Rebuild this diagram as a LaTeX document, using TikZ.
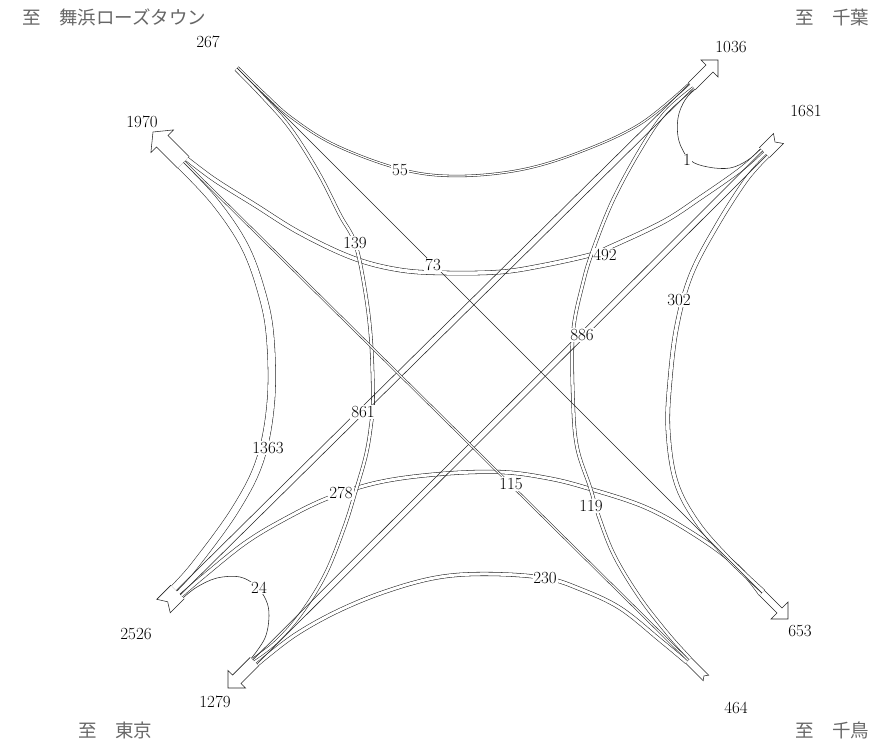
\documentclass[tikz,border=0pt]{standalone}
\usepackage{fontspec}
\newfontfamily\jpfont{Noto Sans CJK JP}
\begin{document}
\begin{tikzpicture}[x=1pt,y=-1pt,
  ln/.style={line width=0.55pt, draw=black!85},
  band/.style={ln, double=white, double distance=#1},
  lbl/.style={fill=white, inner sep=0.8pt, font=\fontsize{17}{17}\selectfont},
  num/.style={inner sep=0pt, font=\fontsize{17}{17}\selectfont},
  dest/.style={inner sep=0pt, anchor=west, text=black!60, font=\jpfont\fontsize{18.5}{19}\selectfont},
  outline/.style={line width=0.55pt, draw=black!85, line join=miter},
  curve/.style={smooth, tension=0.6}]
\useasboundingbox (0,0) rectangle (884,748);

% ---- gate coordinates ----
% entry 2526 (SW)
\coordinate (s1363) at (174.1,588.4);
\coordinate (s861)  at (178.3,592.6);
\coordinate (s278)  at (181.1,595.4);
\coordinate (s24)   at (183.3,597.6);
% entry 1681 (NE)
\coordinate (s1)    at (760.5,148.7);
\coordinate (s492)  at (762.3,150.5);
\coordinate (s886)  at (764.8,153.0);
\coordinate (s302)  at (767.6,155.8);
% entry 464 (SE)
\coordinate (s119)  at (690.1,658.5);
\coordinate (s115)  at (688.3,660.3);
\coordinate (s230)  at (686.5,662.1);
% entry 267 (NW)
\coordinate (s139)  at (235.9,69.1);
\coordinate (s73)   at (237,68);
\coordinate (s55)   at (237.7,67.3);
% exit 1970 (NW)
\coordinate (e492)  at (186.9,158.9);
\coordinate (e115)  at (184.1,161.7);
\coordinate (e1363) at (180.6,165.2);
% exit 1036 (NE)
\coordinate (e55)   at (689.3,83.7);
\coordinate (e861)  at (691.4,85.8);
\coordinate (e119)  at (693.6,88.0);
\coordinate (e1)    at (695.0,89.4);
% exit 653 (SE)
\coordinate (e302)  at (763.2,591.4);
\coordinate (e73)   at (761.8,592.8);
\coordinate (e278)  at (760.4,594.2);
% exit 1279 (SW)
\coordinate (e24)   at (251.3,658.3);
\coordinate (e139)  at (252.7,659.7);
\coordinate (e886)  at (254.9,661.9);
\coordinate (e230)  at (257.3,664.3);

% ---- curved flows ----
\draw[band=7pt] plot[curve] coordinates {(s1363) (195,565) (235,510) (260,460) (271,400) (270,335) (261,290) (244,245) (215,202) (e1363)};
\draw[band=3pt] plot[curve] coordinates {(s278) (205,575) (245,543) (283,520) (328,498) (380,482) (440,474) (500,472) (547,478) (587,488) (647,508) (700,538) (738,567) (e278)};
\draw[ln] plot[curve] coordinates {(s24) (197,587) (217,578) (240,577) (256,586) (266,600) (269,616) (265,638) (e24)};
\draw[ln] plot[curve] coordinates {(s1) (748,160) (730,168) (708,167) (690,160) (679,141) (678,118) (685,100) (e1)};
\draw[band=3.5pt] plot[curve] coordinates {(s492) (740,170) (700,198) (663,222) (610,247) (590,255) (540,266) (500,272) (447,273) (400,270) (353,258) (300,233) (255,205) (215,180) (e492)};
\draw[band=3.5pt] plot[curve] coordinates {(s302) (746,180) (716,227) (691,275) (677,325) (670,380) (668,430) (676,482) (697,522) (728,558) (e302)};
\draw[band=2.5pt] plot[curve] coordinates {(s119) (668,634) (640,598) (615,557) (600,520) (590,487) (577,447) (573,400) (573,333) (583,283) (593,250) (613,200) (640,150) (665,113) (e119)};
\draw[band=3pt] plot[curve] coordinates {(s230) (660,640) (620,608) (580,589) (545,578) (490,574) (440,577) (390,590) (340,610) (295,635) (e230)};
\draw[band=2.5pt] plot[curve] coordinates {(s139) (262,96) (290,128) (318,172) (340,215) (355,243) (365,290) (371,340) (373,400) (371,425) (366,455) (356,490) (344,528) (325,575) (300,615) (275,643) (e139)};
\draw[band=1.2pt] plot[curve] coordinates {(s55) (265,94) (292,118) (335,145) (400,169) (455,176) (520,170) (580,152) (640,124) (e55)};

% ---- straight flows ----
\draw[ln] ([shift={(2.1,2.1)}]s861) -- ([shift={(2.1,2.1)}]e861);
\draw[ln] ([shift={(-2.1,-2.1)}]s861) -- ([shift={(-2.1,-2.1)}]e861);
\draw[ln] ([shift={(2.1,2.1)}]s886) -- ([shift={(2.1,2.1)}]e886);
\draw[ln] ([shift={(-2.1,-2.1)}]s886) -- ([shift={(-2.1,-2.1)}]e886);
\draw[band=1.2pt] (s115) -- (e115);
\draw[ln] (s73) -- (e73);

% ---- exit arrows ----
\draw[outline] (189.1,156.7) -- (167.9,135.5) -- (173.5,129.9) -- (153,132) -- (150.9,152.5) -- (156.5,146.9) -- (177.7,168.1);
\draw[outline] (688.3,82.7) -- (706,65) -- (701,60) -- (718,60) -- (718,77) -- (713,72) -- (695.3,89.7);
\draw[outline] (250.3,657.3) -- (232.6,675) -- (228,670.4) -- (228,688) -- (245.6,688) -- (241,683.4) -- (258.7,665.7);
\draw[outline] (764.3,590.3) -- (782,608) -- (788,602) -- (788,619) -- (771,619) -- (777,613) -- (759.3,595.3);

% ---- entry tails ----
\draw[outline] (170.9,585.2) -- (156.8,599.3) -- (167.7,601.8) -- (170.2,612.7) -- (184.3,598.6);
\draw[outline] (759.4,147.7) -- (773.5,133.5) -- (775,142) -- (783.5,143.5) -- (769.4,157.6);
\draw[outline] (691.1,657.5) -- (708.8,675.2) -- (703.9,675.9) -- (703.2,680.8) -- (685.5,663.1);

% ---- flow labels ----
\node[lbl] (l55)   at (400,170) {55};
\node[lbl] (l139)  at (355,243) {139};
\node[lbl] (l73)   at (433,265) {73};
\node[lbl] (l492)  at (605,255) {492};
\node[lbl] (l302)  at (679,300) {302};
\node[lbl] (l886)  at (582,335) {886};
\node[lbl] (l861)  at (363,412) {861};
\node[lbl] (l1363) at (268,448) {1363};
\node[lbl] (l278)  at (341,493) {278};
\node[lbl] (l115)  at (511,484) {115};
\node[lbl] (l119)  at (591,506) {119};
\node[lbl] (l230)  at (545,578) {230};
\node[lbl] (l24)   at (259,588) {24};
\node[lbl] (l1)    at (687,160) {1};

% ---- end totals ----
\node[num] (n267)  at (208,42)  {267};
\node[num] (n1036) at (731,47)  {1036};
\node[num] (n1970) at (142,122) {1970};
\node[num] (n1681) at (806,111) {1681};
\node[num] (n2526) at (136,634) {2526};
\node[num] (n1279) at (215,702) {1279};
\node[num] (n653)  at (800,631) {653};
\node[num] (n464)  at (736,708) {464};

% ---- destinations ----
\node[dest] (dNW) at (22,17)  {至　舞浜ローズタウン};
\node[dest] (dNE) at (795,17) {至　千葉};
\node[dest] (dSW) at (78,730) {至　東京};
\node[dest] (dSE) at (795,730) {至　千鳥};
\end{tikzpicture}
\end{document}
